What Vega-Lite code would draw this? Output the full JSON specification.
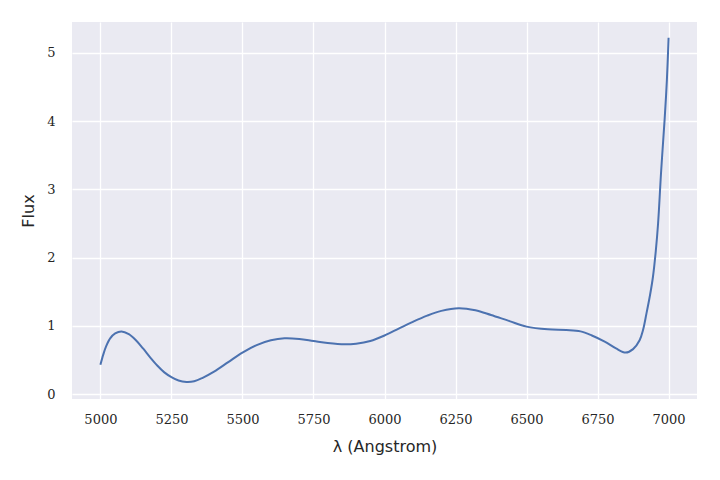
{
  "$schema": "https://vega.github.io/schema/vega-lite/v6.json",
  "width": 625,
  "height": 377,
  "autosize": {"type": "none"},
  "padding": {"left": 72, "top": 22, "right": 23, "bottom": 81},
  "background": "white",
  "config": {
    "view": {"fill": "#EAEAF2", "stroke": null},
    "axis": {
      "grid": true,
      "gridColor": "white",
      "gridWidth": 1.3,
      "domain": false,
      "ticks": false,
      "labelFont": "DejaVu Serif",
      "labelFontSize": 13,
      "labelColor": "#262626",
      "titleFont": "DejaVu Sans",
      "titleFontSize": 16,
      "titleFontWeight": "normal",
      "titleColor": "#262626"
    }
  },
  "data": {
    "values": [
      {"x": 5000, "y": 0.43},
      {"x": 5010, "y": 0.58},
      {"x": 5020, "y": 0.70},
      {"x": 5035, "y": 0.82},
      {"x": 5052, "y": 0.89},
      {"x": 5074, "y": 0.92},
      {"x": 5100, "y": 0.88},
      {"x": 5125, "y": 0.79},
      {"x": 5150, "y": 0.67},
      {"x": 5175, "y": 0.54},
      {"x": 5200, "y": 0.42},
      {"x": 5225, "y": 0.32},
      {"x": 5250, "y": 0.25},
      {"x": 5275, "y": 0.20},
      {"x": 5303, "y": 0.18},
      {"x": 5330, "y": 0.19},
      {"x": 5360, "y": 0.24},
      {"x": 5400, "y": 0.33},
      {"x": 5450, "y": 0.47},
      {"x": 5500, "y": 0.61},
      {"x": 5550, "y": 0.72},
      {"x": 5600, "y": 0.79},
      {"x": 5648, "y": 0.82},
      {"x": 5700, "y": 0.81},
      {"x": 5750, "y": 0.78},
      {"x": 5800, "y": 0.75},
      {"x": 5859, "y": 0.73},
      {"x": 5900, "y": 0.74},
      {"x": 5950, "y": 0.78},
      {"x": 6000, "y": 0.86},
      {"x": 6050, "y": 0.96},
      {"x": 6100, "y": 1.06},
      {"x": 6150, "y": 1.15},
      {"x": 6200, "y": 1.22},
      {"x": 6261, "y": 1.26},
      {"x": 6320, "y": 1.23},
      {"x": 6375, "y": 1.16},
      {"x": 6440, "y": 1.07},
      {"x": 6500, "y": 0.99},
      {"x": 6575, "y": 0.95},
      {"x": 6640, "y": 0.94},
      {"x": 6690, "y": 0.92},
      {"x": 6730, "y": 0.86},
      {"x": 6775, "y": 0.77},
      {"x": 6815, "y": 0.67},
      {"x": 6849, "y": 0.61},
      {"x": 6875, "y": 0.66},
      {"x": 6898, "y": 0.79},
      {"x": 6910, "y": 0.94},
      {"x": 6922, "y": 1.18},
      {"x": 6935, "y": 1.46},
      {"x": 6945, "y": 1.72},
      {"x": 6955, "y": 2.10},
      {"x": 6963, "y": 2.50},
      {"x": 6974, "y": 3.28},
      {"x": 6986, "y": 4.02},
      {"x": 6994, "y": 4.60},
      {"x": 7000, "y": 5.22}
    ]
  },
  "mark": {"type": "line", "color": "#4C72B0", "strokeWidth": 2, "interpolate": "catmull-rom"},
  "encoding": {
    "x": {
      "field": "x",
      "type": "quantitative",
      "scale": {"domain": [4900, 7100], "nice": false, "zero": false},
      "axis": {"values": [5000, 5250, 5500, 5750, 6000, 6250, 6500, 6750, 7000], "format": "d", "labelPadding": 14, "title": "λ (Angstrom)", "titlePadding": 12}
    },
    "y": {
      "field": "y",
      "type": "quantitative",
      "scale": {"domain": [-0.07, 5.45], "nice": false, "zero": false},
      "axis": {"values": [0, 1, 2, 3, 4, 5], "labelPadding": 17, "title": "Flux", "titlePadding": 10}
    }
  }
}
